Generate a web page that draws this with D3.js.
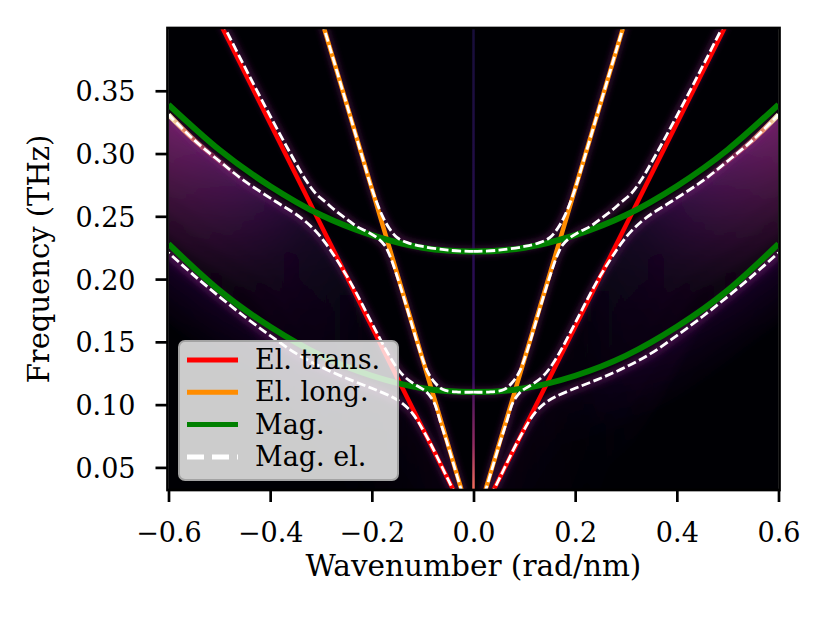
<!DOCTYPE html>
<html>
<head>
<meta charset="utf-8">
<script src="https://cdn.jsdelivr.net/npm/d3@7"></script>
<style>
  body { margin: 0; background: #fff; }
  text { font-family: "DejaVu Serif", "Liberation Serif", serif; }
  .tick text { font-size: 27px; }
</style>
</head>
<body>
<svg width="830" height="623"></svg>
<script>
// k in rad/nm, f in THz
const xTicks = [-0.6, -0.4, -0.2, 0.0, 0.2, 0.4, 0.6]
const yTicks = [0.05, 0.10, 0.15, 0.20, 0.25, 0.30, 0.35]

const transK = [-0.6, 0, 0.6]
const transF = [0.486, 0, 0.486]
const longK = [-0.3, 0, 0.3]
const longF = [0.408, 0, 0.408]

const magK = [-0.6, -0.5, -0.4, -0.3, -0.2, -0.1, 0, 0.1, 0.2, 0.3, 0.4, 0.5, 0.6]
const magLowF = [0.228, 0.191, 0.162, 0.139, 0.123, 0.113, 0.110, 0.113, 0.123, 0.139, 0.162, 0.191, 0.228]
const magHighF = [0.339, 0.303, 0.274, 0.251, 0.235, 0.225, 0.222, 0.225, 0.235, 0.251, 0.274, 0.303, 0.339]

// coupled modes, read on the k >= 0 side (the picture is mirror symmetric)
const mode1K = [0, 0.04, 0.09, 0.12, 0.14, 0.16, 0.2, 0.25, 0.3, 0.35, 0.4, 0.45, 0.5, 0.55, 0.6]
const mode1F = [0, 0.032, 0.073, 0.093, 0.101, 0.106, 0.113, 0.121, 0.130, 0.141, 0.155, 0.170, 0.186, 0.203, 0.221]
const mode2K = [0, 0.03, 0.05, 0.065, 0.078, 0.095, 0.115, 0.135, 0.15, 0.17, 0.2, 0.24, 0.27, 0.29, 0.31, 0.34, 0.39, 0.45, 0.5, 0.55, 0.6]
const mode2F = [0, 0.040, 0.067, 0.086, 0.102, 0.111, 0.116, 0.122, 0.129, 0.142, 0.165, 0.196, 0.216, 0.228, 0.238, 0.249, 0.262, 0.278, 0.294, 0.311, 0.331]
const mode3K = [0, 0.03, 0.06, 0.075, 0.09, 0.105, 0.12, 0.14, 0.155, 0.165, 0.175, 0.19, 0.21, 0.23, 0.25, 0.27, 0.29, 0.31, 0.33, 0.36, 0.4, 0.45, 0.5]
const mode3F = [0.110, 0.110, 0.112, 0.117, 0.126, 0.142, 0.162, 0.189, 0.208, 0.219, 0.227, 0.233, 0.238, 0.242, 0.248, 0.254, 0.261, 0.268, 0.279, 0.300, 0.330, 0.369, 0.409]
const mode4K = [0, 0.05, 0.1, 0.13, 0.15, 0.165, 0.18, 0.2, 0.22, 0.25, 0.28, 0.3]
const mode4F = [0.222, 0.223, 0.226, 0.229, 0.233, 0.240, 0.251, 0.272, 0.299, 0.340, 0.381, 0.408]

const legendLabels = ['El. trans.', 'El. long.', 'Mag.', 'Mag. el.']
const legendColors = ['#ff0000', '#ff8c00', '#008000', '#ffffff']

const svg = d3.select('svg')
const pLeft = 168.5, pRight = 778.5, pTop = 28, pBottom = 490

const x = d3.scaleLinear().domain([-0.6, 0.6]).range([pLeft, pRight])
const xm = x.copy().domain([0.6, -0.6])   // mirror, draws the k < 0 half
const y = d3.scaleLinear().domain([0.032, 0.4]).range([pBottom, pTop])

const smooth = d3.curveCatmullRom.alpha(0.5)
const lineFor = (xs, curve) => d3.line().x(d => xs(d[0])).y(d => y(d[1])).curve(curve || smooth)

const modes = [d3.zip(mode1K, mode1F), d3.zip(mode2K, mode2F), d3.zip(mode3K, mode3F), d3.zip(mode4K, mode4F)]

const defs = svg.append('defs')
defs.append('clipPath').attr('id', 'plot')
  .append('rect').attr('x', pLeft).attr('y', pTop).attr('width', pRight - pLeft).attr('height', pBottom - pTop)

const blur = (id, s) => defs.append('filter').attr('id', id)
  .attr('filterUnits', 'userSpaceOnUse')
  .attr('x', 0).attr('y', 0).attr('width', 830).attr('height', 623)
  .append('feGaussianBlur').attr('stdDeviation', s)
blur('b3', 3)
blur('b5', 5)

const hGrad = (id, stops) => {
  const g = defs.append('linearGradient').attr('id', id)
    .attr('gradientUnits', 'userSpaceOnUse')
    .attr('x1', pLeft).attr('x2', pRight).attr('y1', 0).attr('y2', 0)
  g.selectAll('stop').data(stops).enter().append('stop')
    .attr('offset', d => d[0]).attr('stop-color', d => d[1]).attr('stop-opacity', d => d[2])
}
hGrad('fadeStrong', [[0, '#8c2981', 1], [0.1, '#7a2382', 0.65], [0.22, '#5c1880', 0.25], [0.32, '#3b0f70', 0.06], [0.5, '#3b0f70', 0],
  [0.68, '#3b0f70', 0.06], [0.78, '#5c1880', 0.25], [0.9, '#7a2382', 0.65], [1, '#8c2981', 1]])
hGrad('fadeWeak', [[0, '#51127c', 0.45], [0.2, '#51127c', 0.25], [0.35, '#3b0f70', 0.08], [0.5, '#3b0f70', 0],
  [0.65, '#3b0f70', 0.08], [0.8, '#51127c', 0.25], [1, '#51127c', 0.45]])
hGrad('hot', [[0, '#fcfdbf', 0.95], [0.025, '#fe9f6d', 0.85], [0.07, '#de4968', 0.45], [0.14, '#8c2981', 0],
  [0.86, '#8c2981', 0], [0.93, '#de4968', 0.45], [0.975, '#fe9f6d', 0.85], [1, '#fcfdbf', 0.95]])
const vg = defs.append('linearGradient').attr('id', 'center')
  .attr('gradientUnits', 'userSpaceOnUse').attr('x1', 0).attr('x2', 0).attr('y1', pTop).attr('y2', pBottom)
vg.selectAll('stop').data([[0, '#1d1147', 0.8], [0.75, '#3b0f70', 0.8], [0.9, '#b5367a', 0.8], [1, '#f7705c', 1]])
  .enter().append('stop')
  .attr('offset', d => d[0]).attr('stop-color', d => d[1]).attr('stop-opacity', d => d[2])

// regions below mode 1 and mode 2, used to keep the haze on one side
;[[0, 'below1'], [1, 'below2']].forEach(([m, id]) => {
  const cp = defs.append('clipPath').attr('id', id)
  ;[x, xm].forEach(xs => {
    cp.append('path').attr('d', d3.area().x(d => xs(d[0])).y0(pBottom + 5).y1(d => y(d[1])).curve(smooth)(modes[m]))
  })
})

const plot = svg.append('g').attr('clip-path', 'url(#plot)')
plot.append('rect').attr('x', pLeft).attr('y', pTop).attr('width', pRight - pLeft).attr('height', pBottom - pTop).attr('fill', '#000004')

// spectral weight, approximated by stacked translucent strokes along the modes
const haze = (m, clip, grad, widths, alpha) => {
  const g = plot.append('g').attr('clip-path', `url(#${clip})`)
    .append('g').attr('filter', 'url(#b5)')
  widths.forEach(w => {
    ;[x, xm].forEach(xs => {
      g.append('path').attr('d', lineFor(xs)(modes[m]))
        .attr('fill', 'none').attr('stroke', `url(#${grad})`).attr('stroke-width', w)
        .attr('stroke-opacity', alpha)
    })
  })
}
haze(1, 'below2', 'fadeStrong', [10, 24, 40, 60, 84, 112, 144, 180, 220], 0.16)
haze(0, 'below1', 'fadeWeak', [10, 24, 44, 70, 100], 0.16)

modes.forEach(mode => {
  ;[x, xm].forEach(xs => {
    plot.append('path').attr('d', lineFor(xs)(mode))
      .attr('fill', 'none').attr('stroke', '#8c2981').attr('stroke-opacity', 0.4)
      .attr('stroke-width', 8).attr('filter', 'url(#b3)')
  })
})
;[x, xm].forEach(xs => {
  plot.append('path').attr('d', lineFor(xs)(modes[1]))
    .attr('fill', 'none').attr('stroke', 'url(#hot)').attr('stroke-width', 5)
})

plot.append('line')
  .attr('x1', x(0)).attr('x2', x(0)).attr('y1', pTop).attr('y2', pBottom)
  .attr('stroke', 'url(#center)').attr('stroke-width', 2.5)

// bare dispersions
plot.append('path').attr('d', lineFor(x, d3.curveLinear)(d3.zip(transK, transF)))
  .attr('fill', 'none').attr('stroke', legendColors[0]).attr('stroke-width', 4.5)
plot.append('path').attr('d', lineFor(x, d3.curveLinear)(d3.zip(longK, longF)))
  .attr('fill', 'none').attr('stroke', legendColors[1]).attr('stroke-width', 4.5)
;[magLowF, magHighF].forEach(f => {
  plot.append('path').attr('d', lineFor(x, d3.curveNatural)(d3.zip(magK, f)))
    .attr('fill', 'none').attr('stroke', legendColors[2]).attr('stroke-width', 6)
})

// coupled modes
modes.forEach(mode => {
  ;[x, xm].forEach(xs => {
    plot.append('path').attr('d', lineFor(xs)(mode))
      .attr('fill', 'none').attr('stroke', '#fff').attr('stroke-width', 2.8)
      .attr('stroke-dasharray', '9,3.5')
  })
})

// legend
const leg = svg.append('g')
leg.append('rect').attr('x', 179).attr('y', 341).attr('width', 219).attr('height', 139).attr('rx', 6)
  .attr('fill', '#fff').attr('fill-opacity', 0.8).attr('stroke', '#a3a3a3').attr('stroke-width', 2)
const rows = leg.selectAll('g.row').data(legendLabels).enter().append('g')
  .attr('transform', (d, i) => `translate(0, ${360 + i * 32.3})`)
rows.append('line').attr('x1', 187).attr('x2', 238).attr('y1', 0).attr('y2', 0)
  .attr('stroke', (d, i) => legendColors[i]).attr('stroke-width', 5)
  .attr('stroke-dasharray', (d, i) => i === 3 ? '17,8' : null)
rows.append('text').attr('x', 255).attr('y', 9).attr('font-size', 27).text(d => d)

// axes
const gx = svg.append('g').attr('transform', `translate(0, ${pBottom})`)
  .call(d3.axisBottom(x).tickValues(xTicks).tickSize(12).tickFormat(d3.format('.1f')))
gx.select('.domain').remove()
gx.selectAll('.tick line').attr('stroke-width', 2.7)
gx.selectAll('.tick text').attr('y', 52).attr('dy', null)

const gy = svg.append('g').attr('transform', `translate(${pLeft - 1}, 0)`)
  .call(d3.axisLeft(y).tickValues(yTicks).tickSize(12).tickFormat(d3.format('.2f')))
gy.select('.domain').remove()
gy.selectAll('.tick line').attr('stroke-width', 2.7)
gy.selectAll('.tick text').attr('x', -32).attr('dy', 10)

svg.append('rect').attr('x', pLeft - 1).attr('y', pTop).attr('width', pRight - pLeft + 2).attr('height', pBottom - pTop)
  .attr('fill', 'none').attr('stroke', '#000').attr('stroke-width', 2.7)

svg.append('text').attr('x', x(0)).attr('y', 576).attr('text-anchor', 'middle')
  .attr('font-size', 29.5).text('Wavenumber (rad/nm)')
svg.append('text').attr('transform', `translate(49, ${(pTop + pBottom) / 2}) rotate(-90)`)
  .attr('text-anchor', 'middle').attr('font-size', 29).text('Frequency (THz)')
</script>
</body>
</html>
